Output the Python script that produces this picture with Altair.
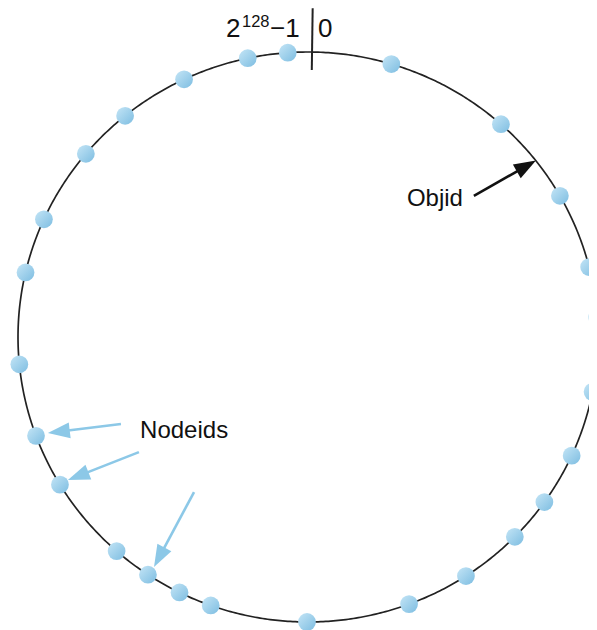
import math
import altair as alt
import pandas as pd

# ---- data -------------------------------------------------------------
# node ids: positions on the ring, degrees clockwise from id 0 (top)
node_deg = [16.7, 41.7, 60.3, 75.8, 86.0, 101.1, 114.6, 125.4, 134.5, 147.0,
            159.6, 180.2, 199.6, 206.3, 213.5, 221.3, 238.8, 249.7, 264.5,
            283.1, 294.4, 310.0, 320.9, 334.7, 348.0, 356.0]

# ring outline (angle samples, degrees)
ring_deg = [i * 0.5 for i in range(721)]

# "0" marker position on the ring (degrees) and its radial extent
zero_deg = 0.8
zero_r = [0.937, 1.154]

# text labels (data coordinates: unit ring)
label_text = ["2", "128", "\u22121", "0", "Objid", "Nodeids"]
label_x = [-0.283, -0.2276, -0.1310, 0.0345, 0.341, -0.579]
label_y = [1.054, 1.089, 1.054, 1.054, 0.461, -0.355]
label_size = [26, 16.5, 26, 26, 24, 24]

# arrows: tail (x, y) -> tip (x, y), in unit-ring coordinates
objid_arrow = [(0.572, 0.495, 0.786, 0.619)]
node_arrows = [(-0.645, -0.305, -0.897, -0.337),
               (-0.583, -0.404, -0.828, -0.502),
               (-0.393, -0.544, -0.531, -0.807)]

# ---- layout -----------------------------------------------------------
W, H = 581, 622
XDOM = [-1.0345, 0.9690]
YDOM = [-1.0281, 1.1544]
px_x = W / (XDOM[1] - XDOM[0])
px_y = H / (YDOM[1] - YDOM[0])

xs = alt.Scale(domain=XDOM, nice=False, zero=False)
ys = alt.Scale(domain=YDOM, nice=False, zero=False)
X = lambda f: alt.X(f, type="quantitative", scale=xs, axis=None)
Y = lambda f: alt.Y(f, type="quantitative", scale=ys, axis=None)

HEAD_LEN = 22


def arrow_frame(arrows):
    rows = []
    for (x0, y0, x1, y1) in arrows:
        dx = (x1 - x0) * px_x
        dy = -(y1 - y0) * px_y
        L = math.hypot(dx, dy)
        ang = math.degrees(math.atan2(dx, -dy)) % 360
        ex = x1 - (dx / L) * 10 / px_x
        ey = y1 + (dy / L) * 10 / px_y
        rows.append(dict(x0=x0, y0=y0, x1=x1, y1=y1, ex=ex, ey=ey, ang=ang))
    return pd.DataFrame(rows)


ring = alt.Chart(pd.DataFrame({"deg": ring_deg})).transform_calculate(
    x="sin(datum.deg*PI/180)", y="cos(datum.deg*PI/180)"
).mark_line(color="#222222", strokeWidth=1.7).encode(
    x=X("x:Q"), y=Y("y:Q"), order="deg:Q"
)

zero_df = pd.DataFrame({"deg": [zero_deg], "r0": [zero_r[0]], "r1": [zero_r[1]]})
tick = alt.Chart(zero_df).transform_calculate(
    x="datum.r0*sin(datum.deg*PI/180)", y="datum.r0*cos(datum.deg*PI/180)",
    x2="datum.r1*sin(datum.deg*PI/180)", y2="datum.r1*cos(datum.deg*PI/180)"
).mark_rule(color="#222222", strokeWidth=2).encode(
    x=X("x:Q"), y=Y("y:Q"), x2="x2:Q", y2="y2:Q"
)

grad = alt.Gradient(
    gradient="linear",
    stops=[alt.GradientStop(color="#c4e5f6", offset=0),
           alt.GradientStop(color="#7dbde1", offset=1)],
    x1=0, y1=0, x2=1, y2=1,
)
nodes = alt.Chart(pd.DataFrame({"deg": node_deg})).transform_calculate(
    x="sin(datum.deg*PI/180)", y="cos(datum.deg*PI/180)"
).mark_circle(size=315, color=grad, opacity=1).encode(
    x=X("x:Q"), y=Y("y:Q")
)

head_path = "M0,0L-0.36,1L0.36,1Z"


def arrow_layers(arrows, color):
    df = arrow_frame(arrows)
    line = alt.Chart(df).mark_rule(color=color, strokeWidth=2.6).encode(
        x=X("x0:Q"), y=Y("y0:Q"), x2="ex:Q", y2="ey:Q"
    )
    head = alt.Chart(df).mark_point(
        shape=head_path, filled=True, fill=color, color=color, opacity=1,
        strokeWidth=0, size=(2 * HEAD_LEN) ** 2
    ).encode(x=X("x1:Q"), y=Y("y1:Q"), angle=alt.Angle("ang:Q", scale=None))
    return [line, head]


labels = alt.Chart(pd.DataFrame({
    "t": label_text, "x": label_x, "y": label_y, "s": label_size
})).mark_text(
    align="left", baseline="alphabetic", font="Liberation Sans", color="#111111"
).encode(
    x=X("x:Q"), y=Y("y:Q"), text="t:N", size=alt.Size("s:Q", scale=None)
)

chart = alt.layer(
    ring, tick,
    *arrow_layers(node_arrows, "#8cc8e7"),
    *arrow_layers(objid_arrow, "#111111"),
    nodes, labels
).properties(
    width=W, height=H, padding=0, autosize=alt.AutoSizeParams(type="none")
).configure_view(stroke=None)

chart.save("out.html", embed_options={"renderer": "svg", "actions": False})
